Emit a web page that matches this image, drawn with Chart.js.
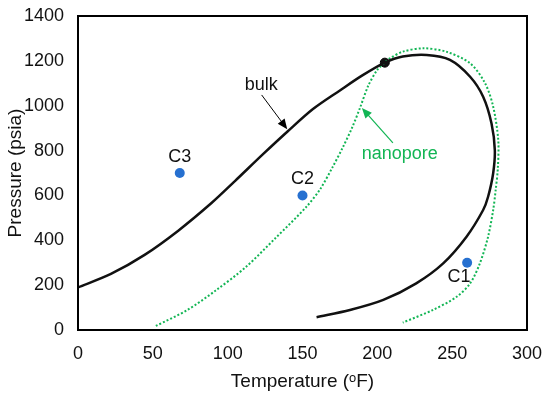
<!DOCTYPE html>
<html>
<head>
<meta charset="utf-8">
<script src="https://cdn.jsdelivr.net/npm/chart.js@4.4.1/dist/chart.umd.min.js"></script>
<style>
  html, body { margin: 0; padding: 0; background: #fff; }
  #wrap { width: 550px; height: 397px; }
</style>
</head>
<body>
<div id="wrap"><canvas id="chart" width="550" height="397"></canvas></div>
<script>
// Phase envelope data (temperature F, pressure psia)
const bulkT = [0, 22, 44.5, 67, 89, 105, 123.8, 140, 157, 175, 190, 205, 217, 233, 248.5, 262, 270.7, 276.3, 278.5, 277.4, 274, 270.7, 259.6, 244, 226, 204, 181.7, 159.4];
const bulkP = [190, 250, 335, 443, 565, 665, 785, 885, 985, 1068, 1135, 1192, 1219, 1226, 1204, 1129, 1040, 921, 802, 699, 594, 535, 416, 297, 208, 134, 89, 57];

const nanoT = [52, 73, 92, 112, 132, 152.7, 162, 170, 177, 183, 188.4, 194, 200, 205, 208.4, 217, 230.7, 246, 262, 272, 277.4, 280.8, 280.5, 279, 277.4, 274, 268.5, 262, 253, 237, 217];
const nanoP = [18, 89, 176, 280, 410, 550, 630, 725, 815, 900, 990, 1090, 1160, 1192, 1211, 1241, 1256, 1241, 1189, 1100, 996, 847, 720, 620, 535, 416, 297, 208, 148, 89, 33];

const caseNames = ["C1", "C2", "C3"];
const caseT = [260, 150, 68];
const caseP = [300, 600, 700];

const criticalT = [205];
const criticalP = [1192];

const xTicks = [0, 50, 100, 150, 200, 250, 300];
const yTicks = [0, 200, 400, 600, 800, 1000, 1200, 1400];

function toPoints(xs, ys) {
  return xs.map((x, i) => ({ x: x, y: ys[i] }));
}

const green = "#12B554";
const blue = "#2670D0";
const font = "'Liberation Sans', Arial, sans-serif";

// draws the box, case labels and the two arrows
const annotations = {
  id: "annotations",
  afterDatasetsDraw(chart) {
    const ctx = chart.ctx;
    const xs = chart.scales.x;
    const ys = chart.scales.y;
    const a = chart.chartArea;
    const px = v => xs.getPixelForValue(v);
    const py = v => ys.getPixelForValue(v);

    ctx.save();
    ctx.strokeStyle = "#000";
    ctx.lineWidth = 2;
    ctx.strokeRect(a.left, a.top, a.right - a.left, a.bottom - a.top);

    ctx.font = "18px " + font;
    ctx.fillStyle = "#111";
    ctx.textAlign = "center";
    ctx.textBaseline = "middle";
    ctx.fillText(caseNames[2], px(68), py(773));
    ctx.fillText(caseNames[1], px(150), py(672));
    ctx.fillText(caseNames[0], px(254.5), py(235));
    ctx.fillText("bulk", px(122.5), py(1092));

    ctx.fillStyle = green;
    ctx.fillText("nanopore", px(215), py(785));

    function arrow(x1, y1, x2, y2, color, lw) {
      const ang = Math.atan2(y2 - y1, x2 - x1);
      const head = 11;
      ctx.strokeStyle = color;
      ctx.fillStyle = color;
      ctx.lineWidth = lw;
      ctx.beginPath();
      ctx.moveTo(x1, y1);
      ctx.lineTo(x2 - Math.cos(ang) * head * 0.8, y2 - Math.sin(ang) * head * 0.8);
      ctx.stroke();
      ctx.beginPath();
      ctx.moveTo(x2, y2);
      ctx.lineTo(x2 - head * Math.cos(ang - 0.4), y2 - head * Math.sin(ang - 0.4));
      ctx.lineTo(x2 - head * Math.cos(ang + 0.4), y2 - head * Math.sin(ang + 0.4));
      ctx.closePath();
      ctx.fill();
    }
    arrow(px(122.7), py(1048), px(139.8), py(895), "#000", 1);
    arrow(px(210.4), py(834), px(189.7), py(990), green, 1.2);
    ctx.restore();
  }
};

// keep tick labels from pushing the plot area inwards
function noPad(s) {
  s.paddingTop = 0;
  s.paddingBottom = 0;
  s.paddingLeft = 0;
  s.paddingRight = 0;
}

new Chart(document.getElementById("chart"), {
  type: "scatter",
  data: {
    datasets: [
      {
        label: "bulk",
        data: toPoints(bulkT, bulkP),
        showLine: true,
        borderColor: "#111",
        borderWidth: 2.5,
        pointRadius: 0,
        tension: 0.3,
        fill: false
      },
      {
        label: "nanopore",
        data: toPoints(nanoT, nanoP),
        showLine: true,
        borderColor: green,
        borderWidth: 2,
        borderDash: [2, 2],
        pointRadius: 0,
        tension: 0.3,
        fill: false
      },
      {
        label: "cases",
        data: toPoints(caseT, caseP),
        pointRadius: 5,
        pointBackgroundColor: blue,
        pointBorderColor: blue,
        pointBorderWidth: 0
      },
      {
        label: "critical",
        data: toPoints(criticalT, criticalP),
        pointRadius: 4.5,
        pointBackgroundColor: "#111",
        pointBorderColor: "#000",
        pointBorderWidth: 1
      }
    ]
  },
  options: {
    responsive: false,
    animation: false,
    layout: { padding: { left: 0, right: 23, top: 16, bottom: 0 } },
    plugins: {
      legend: { display: false },
      tooltip: { enabled: false }
    },
    scales: {
      x: {
        type: "linear",
        min: 0,
        max: 300,
        afterBuildTicks: s => { s.ticks = xTicks.map(v => ({ value: v })); },
        afterFit: s => { s.height = 67; noPad(s); },
        grid: { display: false, drawTicks: false },
        border: { display: true, color: "#000", width: 2 },
        ticks: { color: "#111", font: { size: 18, family: font }, padding: 13, callback: v => v },
        title: {
          display: true,
          text: "Temperature (\u1d52F)",
          color: "#111",
          font: { size: 19, family: font },
          padding: { top: 2 }
        }
      },
      y: {
        type: "linear",
        min: 0,
        max: 1400,
        afterBuildTicks: s => { s.ticks = yTicks.map(v => ({ value: v })); },
        afterFit: s => { s.width = 78; noPad(s); },
        grid: { display: false, drawTicks: false },
        border: { display: true, color: "#000", width: 2 },
        ticks: { color: "#111", font: { size: 18, family: font }, padding: 14, callback: v => v },
        title: {
          display: true,
          text: "Pressure (psia)",
          color: "#111",
          font: { size: 19, family: font },
          padding: { bottom: 0 }
        }
      }
    }
  },
  plugins: [annotations]
});
</script>
</body>
</html>
